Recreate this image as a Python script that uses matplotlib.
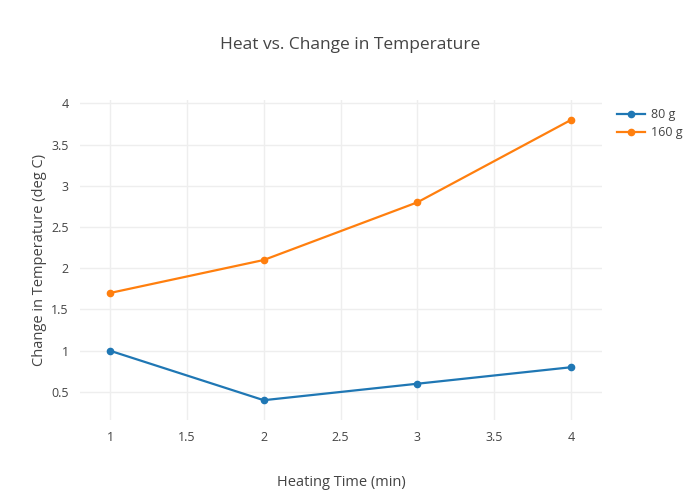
import matplotlib.pyplot as plt

plt.rcParams['font.family'] = ['Open Sans', 'DejaVu Sans']

heating_time = [1, 2, 3, 4]
temp_80g = [1.0, 0.4, 0.6, 0.8]
temp_160g = [1.7, 2.1, 2.8, 3.8]
series_names = ['80 g', '160 g']
x_ticks = [1, 1.5, 2, 2.5, 3, 3.5, 4]
y_ticks = [0.5, 1, 1.5, 2, 2.5, 3, 3.5, 4]

text_color = '#444444'
grid_color = '#eeeeee'

fig = plt.figure(figsize=(7, 5), dpi=100)
# plotly-like margins: left 80, right 98, top 100, bottom 80
ax = fig.add_axes([80 / 700, 80 / 500, 522 / 700, 320 / 500])

ax.plot(heating_time, temp_80g, color='#1f77b4', linewidth=1.6, marker='o',
        markersize=4.5, label=series_names[0])
ax.plot(heating_time, temp_160g, color='#ff7f0e', linewidth=1.6, marker='o',
        markersize=4.5, label=series_names[1])

ax.set_xlim(0.805, 4.2)
ax.set_ylim(0.16, 4.04)
ax.set_xticks(x_ticks)
ax.set_xticklabels([f'{t:g}' for t in x_ticks])
ax.set_yticks(y_ticks)
ax.set_yticklabels([f'{t:g}' for t in y_ticks])
ax.grid(True, color=grid_color, linewidth=1)
ax.set_axisbelow(True)
for s in ax.spines.values():
    s.set_visible(False)
ax.tick_params(length=0, colors=text_color, labelsize=9, pad=8)

ax.set_xlabel('Heating Time (min)', fontsize=10.5, color=text_color, labelpad=22)
ax.set_ylabel('Change in Temperature (deg C)', fontsize=10.5, color=text_color, labelpad=3)
fig.text(350 / 700, 1 - 45 / 500, 'Heat vs. Change in Temperature',
         ha='center', va='center', fontsize=12.5, color=text_color)

leg = ax.legend(loc='upper left', bbox_to_anchor=(612 / 700, 1 - 103 / 500),
                bbox_transform=fig.transFigure, frameon=False, fontsize=9,
                handlelength=2.2, handletextpad=0.5, labelspacing=0.4,
                borderaxespad=0)
for t in leg.get_texts():
    t.set_color(text_color)

fig.savefig('out.png', dpi=100)
